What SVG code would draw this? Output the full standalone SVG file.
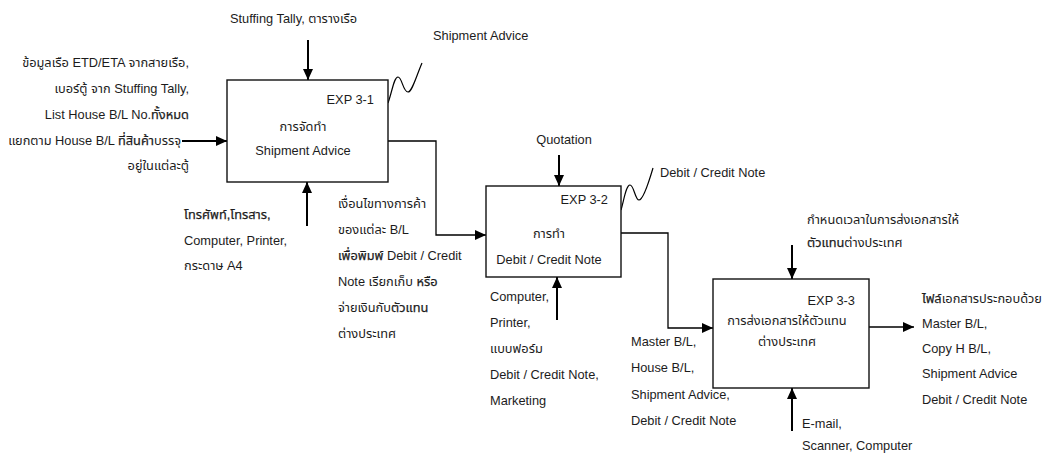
<svg xmlns="http://www.w3.org/2000/svg" width="1057" height="454" viewBox="0 0 1057 454">
  <style>
    text { font-family: "Liberation Sans", "Noto Sans Thai", "DejaVu Sans", sans-serif; font-size: 12.8px; fill: #1c1c1c; }
    .r { text-anchor: end; }
    .m { text-anchor: middle; }
    .b { stroke: #1c1c1c; stroke-width: 0.25; }
    .box { fill: #fff; stroke: #111; stroke-width: 1.4; }
    .feed { fill: none; stroke: #000; stroke-width: 2; }
    .link { fill: none; stroke: #000; stroke-width: 1.3; }
    .sq { fill: none; stroke: #000; stroke-width: 1.2; }
  </style>
  <defs>
    <marker id="ah" markerUnits="userSpaceOnUse" markerWidth="12" markerHeight="10" refX="11" refY="5" orient="auto">
      <path d="M0,0 L11,5 L0,10 z" fill="#000"/>
    </marker>
  </defs>

  <rect width="1057" height="454" fill="#fff"/>

  <!-- connectors: inputs, controls, mechanisms, links and outputs -->
  <g id="connectors">
    <path class="feed" d="M308,40 V80" marker-end="url(#ah)"/>
    <path class="feed" d="M182,141 H227" marker-end="url(#ah)"/>
    <path class="feed" d="M307,226 V182" marker-end="url(#ah)"/>
    <path class="link" d="M388,141 H436 V235 H486" marker-end="url(#ah)"/>
    <path class="feed" d="M559,155 V186" marker-end="url(#ah)"/>
    <path class="feed" d="M557,320 V277" marker-end="url(#ah)"/>
    <path class="link" d="M621,233 H668 V328 H713" marker-end="url(#ah)"/>
    <path class="feed" d="M792,245 V279" marker-end="url(#ah)"/>
    <path class="feed" d="M792,431 V388" marker-end="url(#ah)"/>
    <path class="link" d="M869,327 H914" marker-end="url(#ah)"/>
    <!-- squiggles tying output labels to their boxes -->
    <path class="sq" d="M388,103 C392,92 394,77 398,77 C402,77 403,92 408,92 C412,92 416,77 422,63"/>
    <path class="sq" d="M621,210 C624,200 626,185 630,185 C634,185 635,200 639,200 C643,200 648,185 653,168"/>
  </g>

  <!-- EXP 3-1 -->
  <g id="exp-3-1">
    <rect class="box" x="227" y="80" width="161" height="102"/>
    <text class="r" x="374" y="104">EXP 3-1</text>
    <text class="m" x="303" y="130.5">การจัดทำ</text>
    <text class="m" x="303" y="154.5">Shipment Advice</text>
  </g>
  <g id="exp-3-1-labels">
    <text x="230" y="22.5">Stuffing Tally, ตารางเรือ</text>
    <text x="433" y="39.5">Shipment Advice</text>
    <text class="r" x="189" y="67">ข้อมูลเรือ ETD/ETA จากสายเรือ,</text>
    <text class="r" x="189" y="93">เบอร์ตู้ จาก Stuffing Tally,</text>
    <text class="r" x="189" y="118.5">List House B/L No.<tspan class="b">ทั้งหมด</tspan></text>
    <text class="r" x="181" y="145">แยกตาม House B/L <tspan class="b">ที่สินค้า</tspan>บรรจุ</text>
    <text class="r" x="189" y="170">อยู่ในแต่ละตู้</text>
    <text x="184" y="218.5" class="b">โทรศัพท์,โทรสาร,</text>
    <text x="184" y="244.5">Computer, Printer,</text>
    <text x="184" y="269.5">กระดาษ A4</text>
  </g>

  <!-- EXP 3-2 -->
  <g id="exp-3-2">
    <rect class="box" x="486" y="186" width="135" height="91"/>
    <text class="r" x="608" y="204">EXP 3-2</text>
    <text class="m" x="549" y="237.5">การทำ</text>
    <text class="m" x="549" y="263.5">Debit / Credit Note</text>
  </g>
  <g id="exp-3-2-labels">
    <text x="338" y="207.5">เงื่อนไขทางการค้า</text>
    <text x="338" y="233.5">ของแต่ละ B/L</text>
    <text x="338" y="259.5"><tspan class="b">เพื่อพิมพ์</tspan> Debit / Credit</text>
    <text x="338" y="285.5">Note เรียกเก็บ <tspan class="b">หรือ</tspan></text>
    <text x="338" y="311.5">จ่ายเงินกับ<tspan class="b">ตัวแทน</tspan></text>
    <text x="338" y="337.5">ต่างประเทศ</text>
    <text class="m" x="564" y="143.5">Quotation</text>
    <text x="660" y="177">Debit / Credit Note</text>
    <text x="490" y="300.5">Computer,</text>
    <text x="490" y="326.5">Printer,</text>
    <text x="490" y="352.5">แบบฟอร์ม</text>
    <text x="490" y="378.5">Debit / Credit Note,</text>
    <text x="490" y="404.5">Marketing</text>
  </g>

  <!-- EXP 3-3 -->
  <g id="exp-3-3">
    <rect class="box" x="713" y="279" width="156" height="109"/>
    <text class="r" x="855" y="304.5">EXP 3-3</text>
    <text class="m" x="787" y="324.5">การส่งเอกสารให้ตัวแทน</text>
    <text class="m" x="787" y="345.5">ต่างประเทศ</text>
  </g>
  <g id="exp-3-3-labels">
    <text x="631" y="345.5">Master B/L,</text>
    <text x="631" y="371.5">House B/L,</text>
    <text x="631" y="398.5">Shipment Advice,</text>
    <text x="631" y="424.5">Debit / Credit Note</text>
    <text x="807" y="223.5">กำหนดเวลาในการส่งเอกสารให้</text>
    <text x="807" y="246.5"><tspan class="b">ตัวแทน</tspan>ต่างประเทศ</text>
    <text x="922" y="302.5"><tspan class="b">ไฟล์</tspan>เอกสารประกอบด้วย</text>
    <text x="922" y="327.5">Master B/L,</text>
    <text x="922" y="352.5">Copy H B/L,</text>
    <text x="922" y="378">Shipment Advice</text>
    <text x="922" y="403.5">Debit / Credit Note</text>
    <text x="802" y="427.5">E-mail,</text>
    <text x="802" y="449.5">Scanner, Computer</text>
  </g>
</svg>
